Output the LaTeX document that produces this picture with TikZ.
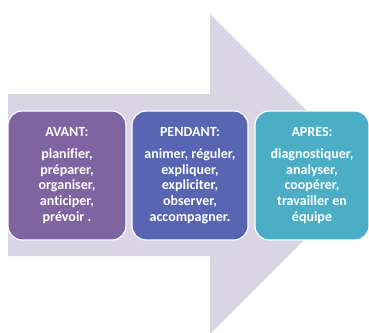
\documentclass[tikz,border=0pt]{standalone}
\usepackage{fontspec}
\setmainfont{Carlito}[Ligatures=NoCommon]
\definecolor{fleche}{HTML}{D9D5E4}
\definecolor{violet}{HTML}{8063A1}
\definecolor{bleu}{HTML}{5765B3}
\definecolor{turquoise}{HTML}{4BADC6}
\begin{document}
\begin{tikzpicture}[x=1pt,y=-1pt,
	etape/.style={draw=white, line width=1.2pt, rounded corners=14pt, text=white,
		font=\bfseries\fontsize{14}{15.7}\selectfont, align=center,
		minimum height=129pt, inner sep=0pt}]

\useasboundingbox (0,0) rectangle (369,332);

\fill [fleche] (8,94) -- (210,94) -- (210,14) -- (370,174) -- (210,334) -- (210,256) -- (8,256) -- cycle;

\node [etape, fill=violet, minimum width=118pt] (avant) at (67,175.5)
	{AVANT:\\[6pt]planifier,\\préparer,\\organiser,\\anticiper,\\prévoir .};
\node [etape, fill=bleu, minimum width=116pt] (pendant) at (190,175.5)
	{PENDANT:\\[6pt]animer, réguler,\\expliquer,\\expliciter,\\observer,\\accompagner.};
\node [etape, fill=turquoise, minimum width=114pt] (apres) at (312,175.5)
	{APRES:\\[6pt]diagnostiquer,\\analyser,\\coopérer,\\travailler en\\équipe};

\end{tikzpicture}
\end{document}
